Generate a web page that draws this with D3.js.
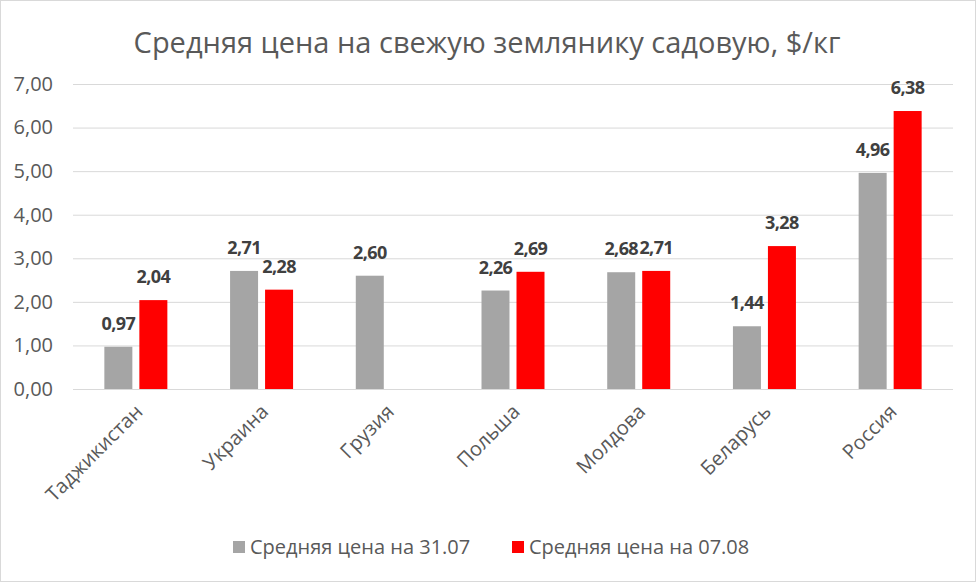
<!DOCTYPE html>
<html>
<head>
<meta charset="utf-8">
<script src="https://cdn.jsdelivr.net/npm/d3@7"></script>
<style>
	body{margin:0;background:#fff;}
	svg{display:block;font-family:"Open Sans","Liberation Sans",sans-serif;}
</style>
</head>
<body>
<div id="chart"></div>
<script>
const countries = ['Таджикистан','Украина','Грузия','Польша','Молдова','Беларусь','Россия'];
const price3107 = [0.97, 2.71, 2.60, 2.26, 2.68, 1.44, 4.96];
const price0708 = [2.04, 2.28, null, 2.69, 2.71, 3.28, 6.38];
const seriesNames = ['Средняя цена на 31.07','Средняя цена на 07.08'];
const yTicks = [0,1,2,3,4,5,6,7];

const width = 976, height = 582;
const margin = {t:84, r:23, b:193, l:73};
const w = width - margin.l - margin.r;
const h = height - margin.t - margin.b;
const colors = ['#a5a5a5','#ff0000'];
const fmt = d => d3.format('.2f')(d).replace('.', ',');

const svg = d3.select('#chart').append('svg')
	.attr('width',width)
	.attr('height',height);

svg.append('rect')
	.attr('x',0.5).attr('y',0.5)
	.attr('width',width-1).attr('height',height-1)
	.style('fill','#fff')
	.style('stroke','#d9d9d9');

svg.append('text')
	.attr('x',width/2 - 1)
	.attr('y',53)
	.attr('text-anchor','middle')
	.style('font-size','29px')
	.style('fill','#595959')
	.text('Средняя цена на свежую землянику садовую, $/кг');

const plot = svg.append('g')
	.attr('transform',`translate(${margin.l},${margin.t})`);

const scaleX = d3.scaleBand().domain(countries).range([0,w]);
const scaleY = d3.scaleLinear().domain([0,7]).range([h,0]);
const scaleSub = d3.scaleBand().domain([0,1]).range([-31.5,31.5]).paddingInner(0.2);

//gridlines + y labels
const axisY = d3.axisLeft(scaleY)
	.tickValues(yTicks)
	.tickSize(-w)
	.tickPadding(20)
	.tickFormat(fmt);
const axisYNode = plot.append('g').attr('class','axis-y').call(axisY);
axisYNode.select('.domain').remove();
axisYNode.selectAll('line').style('stroke','#d9d9d9');
axisYNode.selectAll('text')
	.style('font-size','20px')
	.style('fill','#595959')
	.style('font-family','"Open Sans","Liberation Sans",sans-serif');

//bars
const data = [];
countries.forEach((c,i) => {
	data.push({c, s:0, v:price3107[i]});
	data.push({c, s:1, v:price0708[i]});
});
const valid = data.filter(d => d.v !== null);

plot.selectAll('.bar')
	.data(valid)
	.enter()
	.append('rect')
	.attr('class','bar')
	.attr('x', d => scaleX(d.c) + scaleX.bandwidth()/2 + scaleSub(d.s))
	.attr('width', scaleSub.bandwidth())
	.attr('y', d => scaleY(d.v))
	.attr('height', d => h - scaleY(d.v))
	.style('fill', d => colors[d.s]);

//value labels, a bit tight so neighbours don't collide
plot.selectAll('.label')
	.data(valid)
	.enter()
	.append('text')
	.attr('class','label')
	.attr('x', d => scaleX(d.c) + scaleX.bandwidth()/2 + scaleSub(d.s) + scaleSub.bandwidth()/2)
	.attr('y', d => scaleY(d.v) - 17)
	.attr('text-anchor','middle')
	.style('font-size','18px')
	.style('letter-spacing','-0.6px')
	.style('font-weight','bold')
	.style('fill','#404040')
	.text(d => fmt(d.v));

//x labels
plot.selectAll('.xlab')
	.data(countries)
	.enter()
	.append('text')
	.attr('class','xlab')
	.attr('transform', d => `translate(${scaleX(d) + scaleX.bandwidth()/2 + 8},${h + 24}) rotate(-45)`)
	.attr('text-anchor','end')
	.style('font-size','20px')
	.style('fill','#595959')
	.text(d => d);

//legend
const legendX = [233, 512];
const legend = svg.selectAll('.legend')
	.data(seriesNames)
	.enter()
	.append('g')
	.attr('class','legend')
	.attr('transform', (d,i) => `translate(${legendX[i]},541)`);
legend.append('rect')
	.attr('width',12).attr('height',12)
	.style('fill', (d,i) => colors[i]);
legend.append('text')
	.attr('x',17)
	.attr('y',13)
	.style('font-size','20px')
	.style('fill','#595959')
	.text(d => d);
</script>
</body>
</html>
